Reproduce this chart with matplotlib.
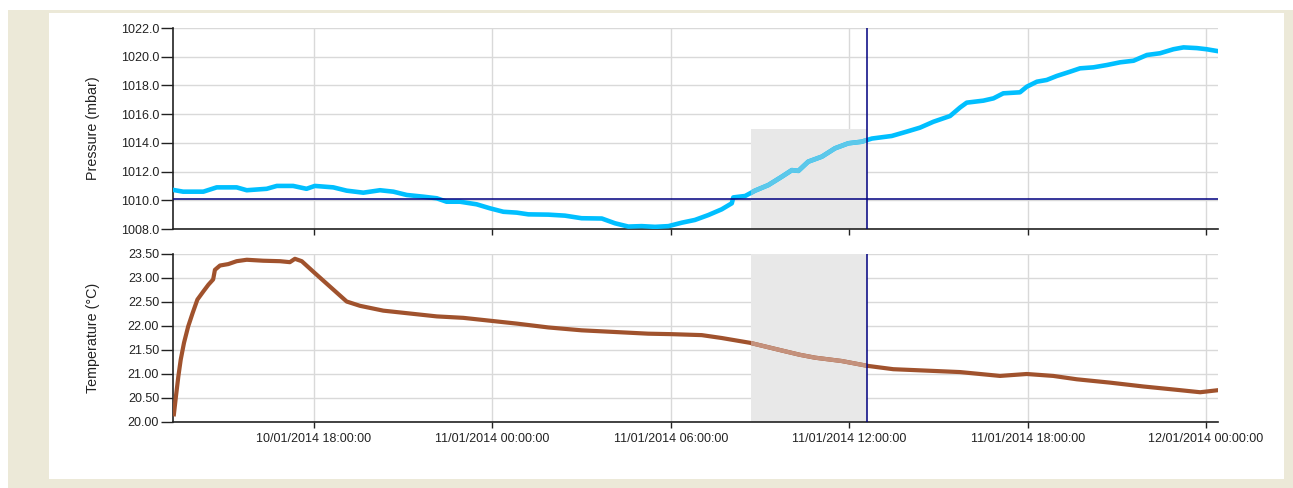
"""
Pressure and temperature logger plot, two stacked panels with a highlighted window.
"""

import numpy as np
import pandas as pd
import matplotlib
matplotlib.use("Agg")
import matplotlib.pyplot as plt
import matplotlib.dates as mdates
from matplotlib.patches import Rectangle

plt.rcParams['font.family'] = ['Liberation Sans', 'DejaVu Sans']

# time origin, all hours below are counted from here
t0 = pd.Timestamp("2014-01-10 12:00:00")

# pressure readings (hours since t0, mbar)
p_hours = [1.27, 1.60, 2.28, 2.73, 3.40, 3.74, 4.41, 4.75, 5.30, 5.75, 6.03, 6.65, 7.10, 7.66,
           8.22, 8.67, 9.12, 9.68, 10.13, 10.46, 10.91, 11.47, 11.92, 12.37, 12.82, 13.21,
           13.88, 14.44, 15.00, 15.68, 16.12, 16.57, 17.02, 17.47, 17.92, 18.37, 18.81, 19.26,
           19.71, 20.05, 20.10, 20.50, 20.83, 21.28, 21.73, 22.07, 22.29, 22.62, 23.08, 23.52,
           23.97, 24.42, 24.76, 25.43, 25.93, 26.38, 26.83, 27.39, 27.73, 27.95, 28.51, 28.85,
           29.18, 29.74, 29.97, 30.31, 30.64, 30.98, 31.43, 31.76, 32.21, 32.66, 33.11, 33.56,
           34.01, 34.45, 34.90, 35.24, 35.69, 36.02, 36.36]
pressure = [1010.72, 1010.60, 1010.60, 1010.90, 1010.90, 1010.70, 1010.80, 1011.00, 1011.00,
            1010.80, 1011.00, 1010.90, 1010.67, 1010.53, 1010.70, 1010.60, 1010.37, 1010.25,
            1010.14, 1009.90, 1009.90, 1009.72, 1009.44, 1009.20, 1009.14, 1009.02, 1009.00,
            1008.93, 1008.75, 1008.73, 1008.40, 1008.17, 1008.20, 1008.15, 1008.20, 1008.44,
            1008.63, 1008.97, 1009.37, 1009.79, 1010.20, 1010.30, 1010.67, 1011.06, 1011.64,
            1012.10, 1012.05, 1012.69, 1013.04, 1013.62, 1013.97, 1014.08, 1014.30, 1014.48,
            1014.78, 1015.06, 1015.47, 1015.87, 1016.47, 1016.80, 1016.94, 1017.10, 1017.45,
            1017.52, 1017.91, 1018.26, 1018.38, 1018.66, 1018.96, 1019.19, 1019.26, 1019.42,
            1019.61, 1019.72, 1020.12, 1020.24, 1020.52, 1020.65, 1020.60, 1020.52, 1020.40]

# temperature readings (hours since t0, deg C)
t_hours = [1.29, 1.36, 1.44, 1.52, 1.63, 1.77, 1.92, 2.08, 2.28, 2.45, 2.61, 2.67, 2.84, 3.12,
           3.40, 3.74, 4.29, 4.86, 5.19, 5.36, 5.59, 5.98, 6.54, 7.10, 7.55, 8.33, 9.23, 10.13,
           11.02, 11.92, 12.82, 13.88, 15.00, 16.12, 17.24, 18.03, 19.04, 19.71, 20.66, 21.73,
           22.34, 22.85, 23.75, 24.61, 25.48, 26.61, 27.73, 29.07, 29.97, 30.86, 31.65, 32.77,
           33.89, 35.02, 35.80, 36.36]
temperature = [20.16, 20.54, 20.95, 21.30, 21.65, 21.99, 22.27, 22.55, 22.72, 22.86, 22.97,
               23.17, 23.26, 23.29, 23.35, 23.38, 23.36, 23.35, 23.33, 23.40, 23.35, 23.13,
               22.82, 22.51, 22.42, 22.32, 22.26, 22.20, 22.17, 22.11, 22.05, 21.97, 21.91,
               21.875, 21.84, 21.83, 21.81, 21.75, 21.65, 21.49, 21.40, 21.34, 21.27, 21.17,
               21.10, 21.07, 21.04, 20.96, 21.00, 20.96, 20.89, 20.82, 20.74, 20.67, 20.62, 20.66]

# highlighted window and cursor
shade_start_h = 20.70
shade_end_h = 24.60
shade_p_top = 1015.0
cursor_pressure = 1010.1
x_range_h = (1.26, 36.40)

p_ticks = [1008, 1010, 1012, 1014, 1016, 1018, 1020, 1022]
t_ticks = [20.0, 20.5, 21.0, 21.5, 22.0, 22.5, 23.0, 23.5]
x_tick_h = [6, 12, 18, 24, 30, 36]

to_time = lambda h: t0 + pd.to_timedelta(np.asarray(h), unit='h')

p_t = to_time(p_hours)
t_t = to_time(t_hours)
s0, s1 = to_time([shade_start_h, shade_end_h])
x0, x1 = to_time(x_range_h)

W, H = 1293, 488
fig = plt.figure(figsize=(W / 100, H / 100), dpi=100)
fig.patch.set_facecolor('white')
# beige frame and white inner panel
fig.patches.append(Rectangle((8 / W, 0), 1, 1 - 10 / H, transform=fig.transFigure,
                             facecolor='#ECE9D8', edgecolor='none', zorder=-10))
fig.patches.append(Rectangle((49 / W, 9 / H), (1284 - 49) / W, (479 - 13) / H,
                             transform=fig.transFigure, facecolor='white',
                             edgecolor='none', zorder=-9))

ax_p = fig.add_axes([173 / W, (H - 229) / H, 1045 / W, 201 / H])
ax_t = fig.add_axes([173 / W, (H - 422) / H, 1045 / W, 168 / H])

CURSOR = '#000080'
GRID = '#d9d9d9'


def style_axis(ax):
    ax.set_facecolor('none')
    for s in ('top', 'right'):
        ax.spines[s].set_visible(False)
    for s in ('left', 'bottom'):
        ax.spines[s].set_color('#222222')
        ax.spines[s].set_linewidth(1.2)
    ax.grid(True, color=GRID, lw=1.0)
    ax.set_axisbelow(True)
    ax.tick_params(axis='y', length=8.5, width=1.0, pad=1.5, labelsize=9, colors='#222222')
    ax.tick_params(axis='x', length=4, width=1.0, pad=4, labelsize=9, colors='#222222')
    ax.set_xlim(x0, x1)
    ax.set_xticks(to_time(x_tick_h))
    ax.xaxis.set_major_formatter(mdates.DateFormatter('%d/%m/%Y %H:%M:%S'))
    ax.yaxis.set_label_coords(-73 / 1045, 0.5)


# --- pressure panel
style_axis(ax_p)
ax_p.set_ylim(1008, 1022)
ax_p.set_yticks(p_ticks)
ax_p.yaxis.set_major_formatter(plt.FormatStrFormatter('%.1f'))
ax_p.tick_params(axis='x', labelbottom=False)
ax_p.set_ylabel('Pressure (mbar)', fontsize=10.3, color='#222222')
ax_p.axvspan(s0, s1, ymin=0, ymax=(shade_p_top - 1008) / 14, color='#e8e8e8', lw=0, zorder=1)
ax_p.plot(p_t, pressure, color='#00BFFF', lw=3.3, solid_joinstyle='round', zorder=3)
hl, = ax_p.plot(p_t, pressure, color='#5CC8EA', lw=3.3, solid_joinstyle='round', zorder=4)
hl.set_clip_path(Rectangle((mdates.date2num(s0), 1000), mdates.date2num(s1) - mdates.date2num(s0),
                           30, transform=ax_p.transData))
ax_p.axhline(cursor_pressure, color=CURSOR, lw=1.1, zorder=5)
ax_p.axvline(s1, color=CURSOR, lw=1.1, zorder=5)

# --- temperature panel
style_axis(ax_t)
ax_t.set_ylim(20, 23.5)
ax_t.set_yticks(t_ticks)
ax_t.yaxis.set_major_formatter(plt.FormatStrFormatter('%.2f'))
ax_t.set_ylabel('Temperature (°C)', fontsize=10.3, color='#222222')
ax_t.axvspan(s0, s1, color='#e8e8e8', lw=0, zorder=1)
ax_t.plot(t_t, temperature, color='#A0522D', lw=3.0, solid_joinstyle='round', zorder=3)
hl, = ax_t.plot(t_t, temperature, color='#C4917C', lw=3.0, solid_joinstyle='round', zorder=4)
hl.set_clip_path(Rectangle((mdates.date2num(s0), 10), mdates.date2num(s1) - mdates.date2num(s0),
                           30, transform=ax_t.transData))
ax_t.axvline(s1, color=CURSOR, lw=1.1, zorder=5)

fig.savefig('out.png', dpi=100, facecolor=fig.get_facecolor())
